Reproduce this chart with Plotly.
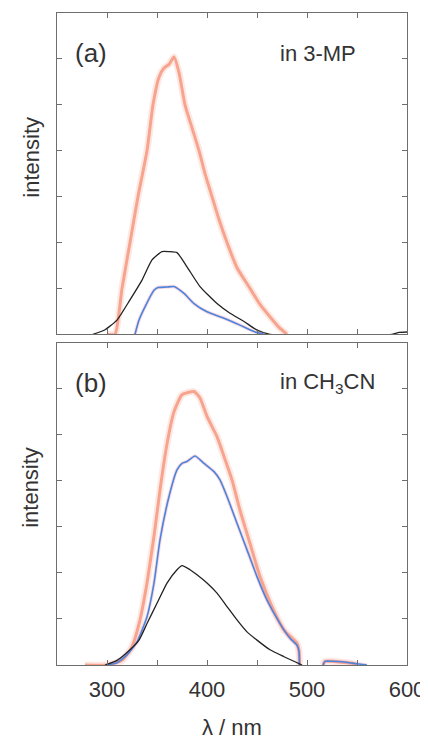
import plotly.graph_objects as go
from plotly.subplots import make_subplots

# ---- data (wavelength in nm, intensity in arbitrary tick units) ----
a_orange_x = [300, 308, 315, 323, 331, 340, 346, 352, 357, 362, 367, 372, 378, 385, 392, 398, 405, 412, 420, 430, 443, 453, 463, 472, 480]
a_orange_y = [0, 0, 1.0, 2.0, 3.0, 4.0, 5.0, 5.6, 5.8, 5.88, 6.04, 5.7, 5.0, 4.5, 4.0, 3.5, 3.0, 2.5, 2.0, 1.45, 1.0, 0.65, 0.38, 0.15, 0.0]

a_black_x = [286, 298, 310, 323, 335, 345, 355, 362, 370, 380, 393, 410, 423, 437, 450, 463, 585, 592, 600]
a_black_y = [0, 0.1, 0.31, 0.75, 1.18, 1.62, 1.8, 1.8, 1.78, 1.47, 1.04, 0.67, 0.46, 0.28, 0.09, 0.0, 0.0, 0.04, 0.05]

a_blue_x = [328, 332, 338, 347, 351, 360, 367, 377, 387, 400, 417, 433, 447, 457]
a_blue_y = [0, 0.31, 0.6, 0.96, 1.02, 1.03, 1.04, 0.89, 0.67, 0.49, 0.35, 0.2, 0.06, 0.0]

b_orange_x = [278, 300, 315, 325, 333, 340, 347, 353, 360, 367, 375, 387, 393, 400, 410, 417, 425, 433, 443, 453, 465, 477, 490, 492, 492.5,
              None, 516, 518, 525, 535, 545, 550]
b_orange_y = [0, 0, 0.1, 0.4, 0.98, 1.78, 2.8, 3.8, 4.8, 5.5, 5.87, 5.94, 5.8, 5.4, 4.96, 4.53, 4.02, 3.36, 2.64, 1.92, 1.27, 0.76, 0.47, 0.3, 0,
              None, 0, 0.08, 0.08, 0.06, 0.04, 0]

b_blue_x = [300, 310, 320, 330, 340, 347, 353, 362, 370, 375, 380, 388, 397, 407, 413, 420, 430, 440, 450, 460, 473, 483, 490, 492, 492.5,
            None, 516, 518, 525, 535, 545, 552, 560]
b_blue_y = [0, 0.05, 0.22, 0.5, 1.05, 1.78, 2.72, 3.66, 4.24, 4.38, 4.42, 4.54, 4.38, 4.2, 4.02, 3.66, 3.08, 2.5, 1.92, 1.41, 0.9, 0.58, 0.43, 0.3, 0,
            None, 0, 0.08, 0.08, 0.07, 0.04, 0.02, 0]

b_black_x = [298, 310, 323, 332, 340, 350, 360, 370, 375, 383, 390, 400, 410, 420, 430, 440, 450, 463, 477, 488, 495]
b_black_y = [0, 0.1, 0.33, 0.54, 0.9, 1.34, 1.78, 2.07, 2.16, 2.07, 1.96, 1.78, 1.56, 1.27, 0.98, 0.72, 0.54, 0.33, 0.18, 0.07, 0]

x_tickvals = [300, 400, 500, 600]
x_ticktext = ["300", "400", "500", "600"]
x_minor_dtick = 50
y_tickvals = [1, 2, 3, 4, 5, 6]

ORANGE = "#f7a48e"
ORANGE_HALO = "rgba(247,164,142,0.25)"
BLUE = "#4a84dc"
BLUE_HALO = "rgba(240,150,170,0.35)"
BLACK = "#222222"
FRAME = "#6e6e6e"
FONT = "Liberation Sans, Arial, sans-serif"
TXT = "#333333"

fig = make_subplots(rows=2, cols=1, shared_xaxes=False, vertical_spacing=0.0129)

def add(x, y, row, color, width, halo=None, halo_w=None):
    if halo:
        fig.add_trace(go.Scatter(x=x, y=y, mode="lines", line=dict(color=halo, width=halo_w, shape="spline", smoothing=0.5),
                                 showlegend=False, hoverinfo="skip", connectgaps=False), row=row, col=1)
    fig.add_trace(go.Scatter(x=x, y=y, mode="lines", line=dict(color=color, width=width, shape="spline", smoothing=0.5),
                             showlegend=False, connectgaps=False), row=row, col=1)

add(a_orange_x, a_orange_y, 1, ORANGE, 3, ORANGE_HALO, 7)
add(a_black_x, a_black_y, 1, BLACK, 1.3)
add(a_blue_x, a_blue_y, 1, BLUE, 1.6, BLUE_HALO, 3.5)

add(b_orange_x, b_orange_y, 2, ORANGE, 3, ORANGE_HALO, 7)
add(b_blue_x, b_blue_y, 2, BLUE, 1.6, BLUE_HALO, 3.5)
add(b_black_x, b_black_y, 2, BLACK, 1.3)

axis_common = dict(showline=True, linecolor=FRAME, linewidth=1.3, mirror="ticks", ticks="inside",
                   ticklen=5, tickwidth=1, tickcolor=FRAME, showgrid=False, zeroline=False, automargin=False)

fig.update_xaxes(range=[250, 600], tickvals=x_tickvals, ticktext=x_ticktext,
                 minor=dict(ticks="inside", ticklen=5, tickwidth=1, tickcolor=FRAME, dtick=x_minor_dtick, tick0=0, showgrid=False),
                 **axis_common)
fig.update_xaxes(showticklabels=False, row=1, col=1)
fig.update_xaxes(tickfont=dict(family=FONT, size=22, color=TXT), ticklabelstandoff=4, row=2, col=1)
fig.update_yaxes(range=[0, 7], tickvals=y_tickvals, showticklabels=False, **axis_common)

# the page body adds an 8 px offset, so the figure is 8 px smaller and margins compensate
fig.update_layout(
    width=420, height=732,
    autosize=False,
    margin=dict(l=49, r=21, t=5, b=75, autoexpand=False),
    plot_bgcolor="white", paper_bgcolor="white",
    font=dict(family=FONT, color=TXT),
)

fig.layout.yaxis.domain = [0.5072, 1.0]
fig.layout.yaxis2.domain = [0.0, 0.4943]

annots = [
    dict(text="(a)", x=0.0457, y=0.875, xref="x domain", yref="y domain", size=26, xanchor="left"),
    dict(text="in 3-MP", x=0.63, y=0.875, xref="x domain", yref="y domain", size=22, xanchor="left"),
    dict(text="(b)", x=0.0457, y=0.875, xref="x2 domain", yref="y2 domain", size=26, xanchor="left"),
    dict(text="in CH<sub>3</sub>CN", x=0.63, y=0.875, xref="x2 domain", yref="y2 domain", size=22, xanchor="left"),
    dict(text="intensity", x=-0.074, y=0.55, xref="x domain", yref="y domain", size=22, xanchor="center", textangle=-90),
    dict(text="intensity", x=-0.074, y=0.55, xref="x2 domain", yref="y2 domain", size=22, xanchor="center", textangle=-90),
    dict(text="λ / nm", x=0.5, y=-0.096, xref="paper", yref="paper", size=22, xanchor="center"),
]
for a in annots:
    fig.add_annotation(text=a["text"], x=a["x"], y=a["y"], xref=a["xref"], yref=a["yref"],
                       xanchor=a["xanchor"], yanchor="middle", showarrow=False,
                       textangle=a.get("textangle", 0),
                       font=dict(family=FONT, size=a["size"], color=TXT))

fig.write_html("out.html")
